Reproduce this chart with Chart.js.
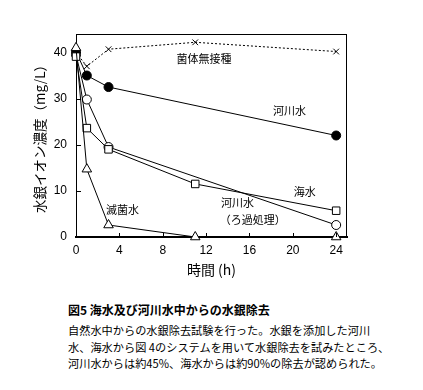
<!DOCTYPE html>
<html><head><meta charset="utf-8">
<script src="https://cdn.jsdelivr.net/npm/chart.js@4"></script>
<style>
html,body{margin:0;padding:0;background:#fff;}
#wrap{position:relative;width:423px;height:390px;overflow:hidden;}
canvas{position:absolute;left:0;top:0;}
.cap{position:absolute;left:68px;white-space:nowrap;font-family:"Noto Sans CJK JP";color:#000;}
#ct{top:302px;font-size:12px;font-weight:bold;line-height:16px;}
#cb{top:322px;font-size:11.2px;line-height:16.5px;}
</style></head><body>
<div id="wrap">
<canvas id="c" width="423" height="290"></canvas>
<div class="cap" id="ct">図5 海水及び河川水中からの水銀除去</div>
<div class="cap" id="cb">自然水中からの水銀除去試験を行った。水銀を添加した河川<br>水、海水から図 4のシステムを用いて水銀除去を試みたところ、<br>河川水からは約45%、海水からは約90%の除去が認められた。</div>
</div>
<script>
// ---- data ----
const xTicks = [0, 4, 8, 12, 16, 20, 24];
const yTicks = [0, 10, 20, 30, 40];
const noInocT = [0, 1, 3, 11, 24];
const noInocY = [40, 37, 40.7, 42.2, 40.2];
const riverT = [0, 1, 3, 24];
const riverY = [40.2, 35, 32.5, 22];
const filteredT = [0, 1, 3, 24];
const filteredY = [39.5, 29.8, 19.5, 2.6];
const seaT = [0, 1, 3, 11, 24];
const seaY = [39.1, 23.6, 19, 11.5, 5.7];
const sterileT = [0, 1, 3, 11, 24];
const sterileY = [41, 14.7, 2.6, 0, 0];
const seriesNames = ['菌体無接種', '河川水', '河川水（ろ過処理）', '海水', '滅菌水'];

// ---- annotation text placement (data units) ----
const notes = [
  {text: '菌体無接種', x: 11.8, y: 38.7},
  {text: '河川水', x: 19.7, y: 27.4},
  {text: '海水', x: 21.1, y: 9.8},
  {text: '河川水', x: 14.9, y: 7.4},
  {text: '（ろ過処理）', x: 16.3, y: 3.7},
  {text: '滅菌水', x: 4.3, y: 5.9}
];

const pts = (t, v) => t.map((x, i) => ({x: x, y: v[i]}));

const framePlugin = {
  id: 'frame',
  afterDraw(chart) {
    const {ctx, chartArea: a, scales: {x, y}} = chart;
    ctx.save();
    ctx.strokeStyle = '#000';
    ctx.lineWidth = 1;
    ctx.beginPath();
    ctx.moveTo(a.left, a.top + 0.5); ctx.lineTo(a.right, a.top + 0.5);
    ctx.moveTo(a.right - 0.5, a.top); ctx.lineTo(a.right - 0.5, a.bottom);
    xTicks.forEach(v => {
      const px = Math.round(x.getPixelForValue(v)) + 0.5;
      ctx.moveTo(px, a.bottom); ctx.lineTo(px, a.bottom - 4);
    });
    yTicks.forEach(v => {
      const py = Math.round(y.getPixelForValue(v)) + 0.5;
      ctx.moveTo(a.left, py); ctx.lineTo(a.left + 5, py);
    });
    ctx.stroke();
    ctx.fillStyle = '#000';
    ctx.font = '11px "Noto Sans CJK JP"';
    ctx.textAlign = 'center';
    ctx.textBaseline = 'middle';
    notes.forEach(n => ctx.fillText(n.text, x.getPixelForValue(n.x), y.getPixelForValue(n.y)));
    ctx.restore();
  }
};

const base = {borderColor: '#000', borderWidth: 1, pointBorderColor: '#000', pointBorderWidth: 1, fill: false, tension: 0, clip: false};

new Chart(document.getElementById('c'), {
  type: 'line',
  data: {
    datasets: [
      Object.assign({}, base, {label: seriesNames[4], data: pts(sterileT, sterileY), pointStyle: 'triangle', pointRadius: 5.5, pointBackgroundColor: '#fff'}),
      Object.assign({}, base, {label: seriesNames[3], data: pts(seaT, seaY), pointStyle: 'rect', pointRadius: 5.3, pointBackgroundColor: '#fff'}),
      Object.assign({}, base, {label: seriesNames[1], data: pts(riverT, riverY), pointStyle: 'circle', pointRadius: 4.5, pointBackgroundColor: '#000'}),
      Object.assign({}, base, {label: seriesNames[2], data: pts(filteredT, filteredY), pointStyle: 'circle', pointRadius: 4.5, pointBackgroundColor: '#fff'}),
      Object.assign({}, base, {label: seriesNames[0], data: pts(noInocT, noInocY), borderDash: [2, 2], pointStyle: 'crossRot', pointRadius: 4, pointBackgroundColor: '#000'})
    ]
  },
  options: {
    responsive: false,
    animation: false,
    layout: {padding: {left: 32, top: 34, right: 76, bottom: 0}},
    plugins: {legend: {display: false}, tooltip: {enabled: false}},
    scales: {
      x: {
        type: 'linear', min: 0, max: 25,
        afterBuildTicks: s => { s.ticks = xTicks.map(v => ({value: v})); },
        afterFit: s => { s.height = 53; },
        grid: {display: false, drawTicks: false},
        border: {display: true, color: '#000', width: 2},
        ticks: {color: '#000', padding: 6, maxRotation: 0, font: {family: 'Liberation Sans', size: 12}},
        title: {display: true, text: '時間 (h)', color: '#000', padding: {top: 0, bottom: 12}, font: {family: 'Noto Sans CJK JP', size: 14}}
      },
      y: {
        type: 'linear', min: 0, max: 44,
        afterBuildTicks: s => { s.ticks = yTicks.map(v => ({value: v})); },
        afterFit: s => { s.width = 44; },
        grid: {display: false, drawTicks: false},
        border: {display: true, color: '#000', width: 1},
        ticks: {color: '#000', padding: 9, font: {family: 'Liberation Sans', size: 12}},
        title: {display: true, text: '水銀イオン濃度（mg/L）', color: '#000', padding: {top: 0, bottom: 0}, font: {family: 'Noto Sans CJK JP', size: 13.5}}
      }
    }
  },
  plugins: [framePlugin]
});
</script>
</body></html>
